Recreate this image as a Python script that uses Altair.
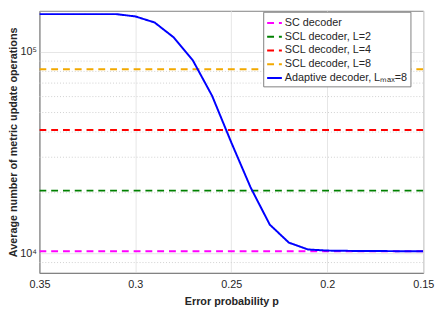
import altair as alt
import pandas as pd

# ---- data ----
p_values = [0.35, 0.34, 0.33, 0.32, 0.31, 0.30, 0.29, 0.28, 0.27, 0.26, 0.25,
            0.24, 0.23, 0.22, 0.21, 0.20, 0.19, 0.18, 0.17, 0.16, 0.15]
adaptive_ops = [154000, 154000, 154000, 154000, 154000, 150000, 140000, 118000,
                90600, 60500, 35500, 21300, 13900, 11300, 10450, 10320, 10290,
                10270, 10260, 10250, 10250]
const_names = ["SC decoder", "SCL decoder, L=2", "SCL decoder, L=4", "SCL decoder, L=8"]
const_values = [10240, 20480, 40960, 81920]
adaptive_name = "Adaptive decoder, L\u2098\u2090\u2093=8"
series_order = const_names + [adaptive_name]
series_colors = ["#FF00FF", "#008000", "#FF0000", "#F2A900", "#0000FF"]
series_dash = [[7, 5], [7, 5], [7, 5], [7, 5], [1, 0]]
x_range = [0.35, 0.15]
minor_grid = [9000, 20000, 30000, 40000, 50000, 60000, 70000, 80000, 90000]
y_ticks = [10000, 100000]
x_ticks = [0.35, 0.3, 0.25, 0.2, 0.15]

rows = []
for name, v in zip(const_names, const_values):
    for x in x_range:
        rows.append({"p": x, "ops": v, "series": name})
for x, v in zip(p_values, adaptive_ops):
    rows.append({"p": x, "ops": v, "series": adaptive_name})
df = pd.DataFrame(rows)
df_minor = pd.DataFrame({"ops": minor_grid})

FONT = "Liberation Sans"

xscale = alt.Scale(domain=[0.15, 0.35], reverse=True, nice=False, zero=False)
yscale = alt.Scale(type="log", domain=[8000, 160000], nice=False)

minor = alt.Chart(df_minor).mark_rule(
    color="#d0d0d0", strokeDash=[1, 2], strokeWidth=1
).encode(y=alt.Y("ops:Q", scale=yscale))

lines = alt.Chart(df).mark_line(strokeWidth=2, clip=True).encode(
    x=alt.X("p:Q", scale=xscale,
            axis=alt.Axis(title="Error probability p", values=x_ticks,
                          format=".2~f", labelOverlap=False, labelFlush=False,
                          ticks=False, labelPadding=6, titlePadding=6,
                          grid=True)),
    y=alt.Y("ops:Q", scale=yscale,
            axis=alt.Axis(title="Average number of metric update operations",
                          values=y_ticks,
                          labelExpr="datum.value == 10000 ? '10\u2074' : '10\u2075'",
                          ticks=False, labelPadding=3, titlePadding=1,
                          titleLimit=400, grid=True)),
    color=alt.Color("series:N", sort=series_order,
                    scale=alt.Scale(domain=series_order, range=series_colors),
                    legend=alt.Legend(title=None, orient="none", legendX=228,
                                      legendY=1, symbolType="stroke",
                                      symbolSize=225, symbolStrokeWidth=2,
                                      labelFontSize=11, labelFont=FONT,
                                      labelColor="#262626",
                                      fillColor="white", strokeColor="#808080",
                                      padding=3, rowPadding=0, labelOffset=2)),
    strokeDash=alt.StrokeDash("series:N", sort=series_order,
                              scale=alt.Scale(domain=series_order, range=series_dash),
                              legend=None),
)

chart = alt.layer(minor, lines).properties(
    width=391, height=267,
    autosize=alt.AutoSizeParams(type="none"),
    padding={"left": 32, "top": 0, "right": 12, "bottom": 35},
).configure_axis(
    labelFont=FONT, titleFont=FONT, labelFontSize=11, titleFontSize=11,
    labelColor="#262626", titleColor="#262626", titleFontWeight="bold",
    domainColor="#808080", gridColor="#e6e6e6", gridWidth=1,
).configure_view(stroke="#808080", strokeWidth=1)

chart.save("out.html", embed_options={"renderer": "svg", "actions": False})
